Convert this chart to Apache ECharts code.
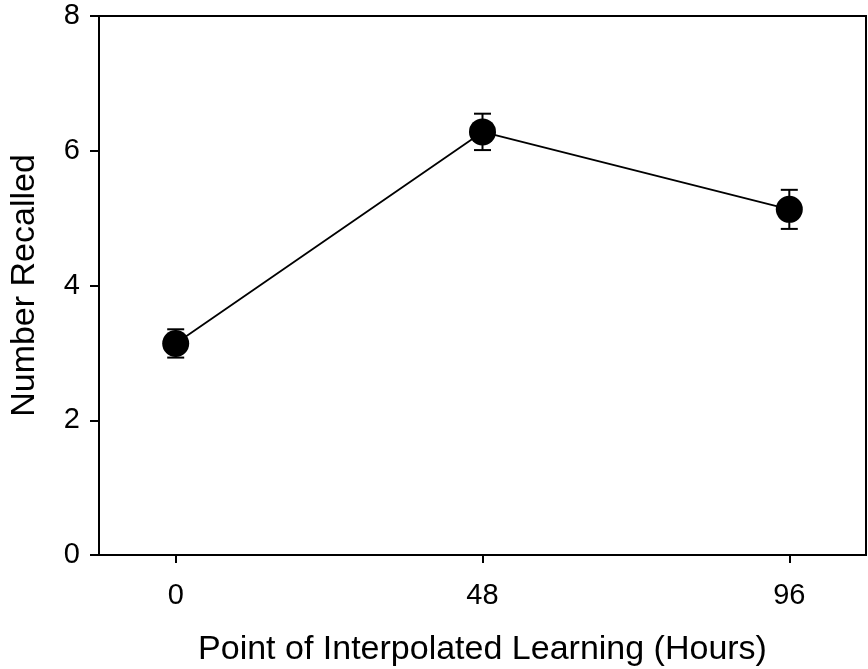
<!DOCTYPE html>
<html>
<head>
<meta charset="utf-8">
<script src="https://cdn.jsdelivr.net/npm/echarts@6/dist/echarts.min.js"></script>
<style>
html,body{margin:0;padding:0;background:#fff;}
#chart{width:868px;height:669px;}
</style>
</head>
<body>
<div id="chart"></div>
<script>
var hours = [0, 48, 96];
var recalled = [3.14, 6.28, 5.13];
var errors = [0.21, 0.27, 0.29];
var xTicks = [0, 48, 96];
var yTicks = [0, 2, 4, 6, 8];

var FONT = '"Liberation Sans", Arial, Helvetica, sans-serif';
var lineData = hours.map(function (h, i) { return [h, recalled[i]]; });
var errData = hours.map(function (h, i) { return [h, recalled[i] - errors[i], recalled[i] + errors[i]]; });

var chart = echarts.init(document.getElementById('chart'), null, { renderer: 'canvas' });
chart.setOption({
  animation: false,
  backgroundColor: '#fff',
  grid: { left: 99, right: 2, top: 16, bottom: 114, containLabel: false, outerBoundsMode: 'none', show: true, borderColor: '#000', borderWidth: 2, backgroundColor: 'transparent' },
  xAxis: {
    type: 'value', min: -12, max: 108,
    name: 'Point of Interpolated Learning (Hours)',
    nameLocation: 'middle', nameGap: 78,
    nameTextStyle: { fontFamily: FONT, fontSize: 34, color: '#000' },
    axisLine: { show: true, onZero: false, lineStyle: { color: '#000', width: 2 } },
    axisTick: { show: true, inside: false, length: 8, customValues: xTicks, lineStyle: { color: '#000', width: 2 } },
    axisLabel: { customValues: xTicks, fontFamily: FONT, fontSize: 29, color: '#000', margin: 26 },
    splitLine: { show: false }
  },
  yAxis: {
    type: 'value', min: 0, max: 8, interval: 2,
    name: 'Number Recalled',
    nameLocation: 'middle', nameGap: 57,
    nameTextStyle: { fontFamily: FONT, fontSize: 34, color: '#000' },
    axisLine: { show: true, onZero: false, lineStyle: { color: '#000', width: 2 } },
    axisTick: { show: true, inside: false, length: 9, customValues: yTicks, lineStyle: { color: '#000', width: 2 } },
    axisLabel: { customValues: yTicks, fontFamily: FONT, fontSize: 29, color: '#000', margin: 19 },
    splitLine: { show: false }
  },
  series: [
    {
      type: 'custom',
      data: errData,
      z: 1,
      renderItem: function (params, api) {
        var x = api.value(0);
        var lo = api.coord([x, api.value(1)]);
        var hi = api.coord([x, api.value(2)]);
        var hw = 8.5;
        var style = { stroke: '#000', lineWidth: 2 };
        return {
          type: 'group',
          children: [
            { type: 'line', shape: { x1: lo[0], y1: lo[1], x2: hi[0], y2: hi[1] }, style: style },
            { type: 'line', shape: { x1: lo[0] - hw, y1: lo[1], x2: lo[0] + hw, y2: lo[1] }, style: style },
            { type: 'line', shape: { x1: hi[0] - hw, y1: hi[1], x2: hi[0] + hw, y2: hi[1] }, style: style }
          ]
        };
      }
    },
    {
      type: 'line',
      data: lineData,
      z: 2,
      symbol: 'circle',
      symbolSize: 27,
      itemStyle: { color: '#000' },
      lineStyle: { color: '#000', width: 1.8 }
    }
  ]
});
</script>
</body>
</html>
